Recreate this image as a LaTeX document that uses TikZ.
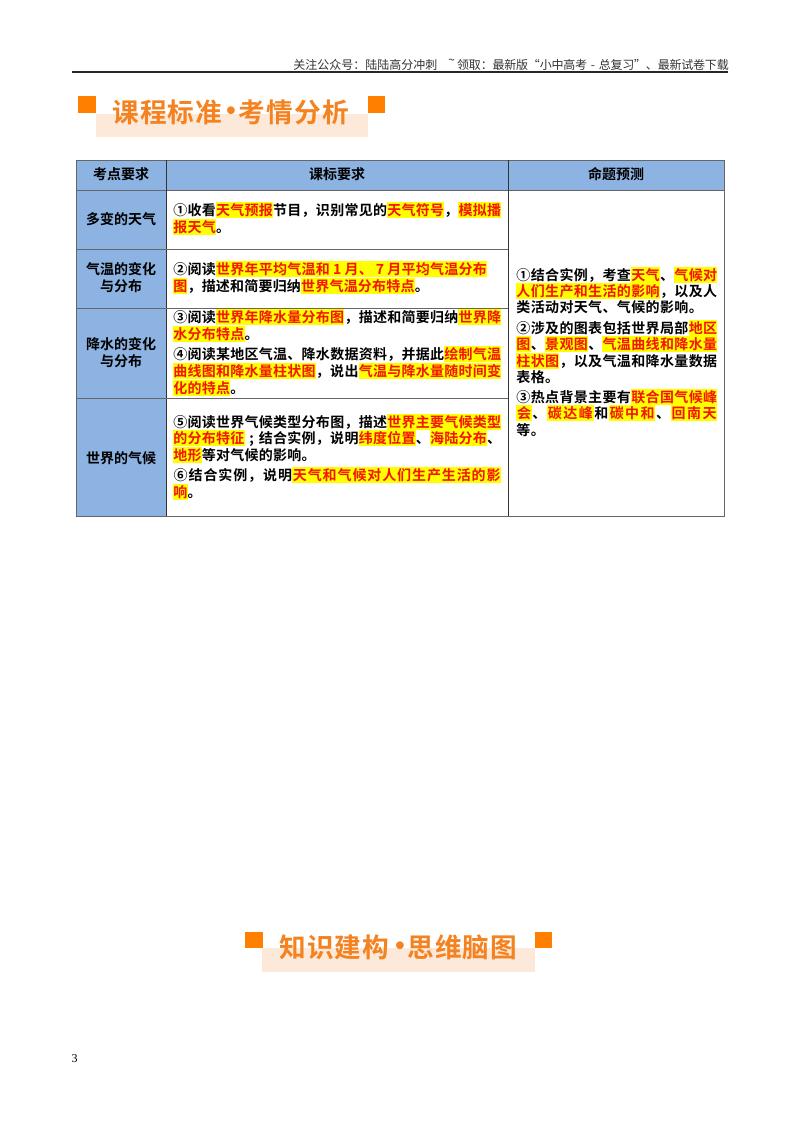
\documentclass[tikz,border=0pt]{standalone}
\usepackage{fontspec}
\setmainfont{Noto Sans CJK SC}[BoldFont={Noto Sans CJK SC Bold}]
\newfontfamily\numfont{Liberation Serif}
\newfontfamily\dotfont{Liberation Sans}
\definecolor{headblue}{HTML}{8DB3E2}
\definecolor{gridgray}{HTML}{666666}
\definecolor{griddark}{HTML}{333333}
\definecolor{mark}{HTML}{FFFF00}
\definecolor{markred}{HTML}{F41400}
\definecolor{bannerorange}{HTML}{FF8000}
\definecolor{bannerpale}{HTML}{FDE9D9}
\definecolor{bannertext}{HTML}{F58220}
\definecolor{toptext}{HTML}{333333}
\newlength\cpitch
\newlength\pxu
\setlength\pxu{0.75pt}
\setlength\fboxsep{0pt}
\makeatletter
\newcommand\spaced[1]{\@tfor\tk:=#1\do{\hbox to \cpitch{\hss\tk\hss}}}
\makeatother
\newcommand\lnstrut{\rule[-0.2em]{0pt}{1.15em}}
\newcommand\N[1]{\spaced{#1}}
\newcommand\HL[1]{\colorbox{mark}{\lnstrut\color{markred}\spaced{#1}}}
\newcommand\tline[5]{\node[bodyline] (#1) at (#2,#3) {\setlength\cpitch{#4\pxu}\lnstrut#5};}
\tikzset{
  bodyline/.style={anchor=west,inner sep=0pt,font=\fontsize{10.5pt}{12pt}\selectfont\bfseries,text=black},
  celllabel/.style={inner sep=0pt,font=\fontsize{10.5pt}{12pt}\selectfont\bfseries,text=black},
  toplabel/.style={anchor=west,inner sep=0pt,font=\fontsize{9pt}{11pt}\selectfont,text=toptext},
  bannerlabel/.style={anchor=west,inner sep=0pt,font=\fontsize{20pt}{22pt}\selectfont\bfseries,text=bannertext},
  bannerdot/.style={inner sep=0pt,font=\fontsize{20pt}{22pt}\selectfont\dotfont\bfseries,text=bannertext},
  grid/.style={draw=gridgray,line width=0.7pt},
  griddk/.style={draw=griddark,line width=0.7pt}
}
\begin{document}
\begin{tikzpicture}[x=0.75pt,y=-0.75pt]
\useasboundingbox (0,0) rectangle (800,1132);
\fill[white] (0,0) rectangle (800,1132);
% running head
\node[toplabel] (head1) at (293,65) {\setlength\cpitch{12\pxu}\spaced{关注公众号：陆陆高分冲刺}};
\node[toplabel] (headt) at (448,62) {\textasciitilde};
\node[toplabel] (head2) at (457,65) {\setlength\cpitch{11.8\pxu}\spaced{领取：最新版“小中高考-总复习”、最新试卷下载}};
\draw[line width=1.5pt,draw=black!85] (72,72) -- (728,72);
% banner 1
\fill[bannerpale] (96,114) rectangle (368,137);
\fill[bannerorange] (78,96) rectangle (96,113);
\fill[bannerorange] (368,96) rectangle (385,113);
\node[bannerlabel] (b1a) at (112,112) {\setlength\cpitch{27.5\pxu}\spaced{课程标准}};
\node[bannerdot] (b1d) at (231,113) {•};
\node[bannerlabel] (b1b) at (238,112) {\setlength\cpitch{27.8\pxu}\spaced{考情分析}};
% table
\fill[headblue] (76,160) rectangle (724,190);
\fill[headblue] (76,190) rectangle (166,516);
\draw[grid] (76,160) rectangle (724,516);
\draw[grid] (76,190) -- (724,190);
\draw[griddk] (166,160) -- (166,516);
\draw[griddk] (508,160) -- (508,516);
\draw[grid] (76,249) -- (508,249);
\draw[grid] (76,308) -- (508,308);
\draw[grid] (76,398) -- (508,398);
% headers and left labels
\node[celllabel] (h1) at (121,174) {考点要求};
\node[celllabel] (h2) at (337,174) {课标要求};
\node[celllabel] (h3) at (616,174) {命题预测};
\node[celllabel] (r1) at (121,219) {多变的天气};
\node[celllabel] (r2a) at (121,269) {气温的变化};
\node[celllabel] (r2b) at (121,286) {与分布};
\node[celllabel] (r3a) at (121,344) {降水的变化};
\node[celllabel] (r3b) at (121,361) {与分布};
\node[celllabel] (r4) at (121,458) {世界的气候};
% middle column
\tline{m1}{173}{210}{14.26}{\N{①收看}\HL{天气预报}\N{节目，识别常见的}\HL{天气符号}\N{，}\HL{模拟播}}
\tline{m2}{173}{227}{14.26}{\HL{报天气}\N{。}}
\tline{m3}{173}{269}{14.26}{\N{②阅读}\HL{世界年平均气温和1月、7月平均气温分布}}
\tline{m4}{173}{286}{14.2}{\HL{图}\N{，描述和简要归纳}\HL{世界气温分布特点}\N{。}}
\tline{m5}{173}{317}{14.26}{\N{③阅读}\HL{世界年降水量分布图}\N{，描述和简要归纳}\HL{世界降}}
\tline{m6}{173}{334}{14.26}{\HL{水分布特点}\N{。}}
\tline{m7}{173}{354}{14.26}{\N{④阅读某地区气温、降水数据资料，并据此}\HL{绘制气温}}
\tline{m8}{173}{371}{14.26}{\HL{曲线图和降水量柱状图}\N{，说出}\HL{气温与降水量随时间变}}
\tline{m9}{173}{388}{14.26}{\HL{化的特点}\N{。}}
\tline{m10}{173}{422}{14.26}{\N{⑤阅读世界气候类型分布图，描述}\HL{世界主要气候类型}}
\tline{m11}{173}{438}{14.26}{\HL{的分布特征}\N{;结合实例，说明}\HL{纬度位置}\N{、}\HL{海陆分布}\N{、}}
\tline{m12}{173}{455}{14.26}{\HL{地形}\N{等对气候的影响。}}
\tline{m13}{173}{475}{14.9}{\N{⑥结合实例，说明}\HL{天气和气候对人们生产生活的影}}
\tline{m14}{173}{492}{14.26}{\HL{响}\N{。}}
% right column
\tline{p1}{516}{275}{14.36}{\N{①结合实例，考查}\HL{天气}\N{、}\HL{气候对}}
\tline{p2}{516}{291}{14.36}{\HL{人们生产和生活的影响}\N{，以及人}}
\tline{p3}{516}{307}{14.36}{\N{类活动对天气、气候的影响。}}
\tline{p4}{516}{328}{14.36}{\N{②涉及的图表包括世界局部}\HL{地区}}
\tline{p5}{516}{344}{14.36}{\HL{图}\N{、}\HL{景观图}\N{、}\HL{气温曲线和降水量}}
\tline{p6}{516}{361}{14.36}{\HL{柱状图}\N{，以及气温和降水量数据}}
\tline{p7}{516}{377}{14.36}{\N{表格。}}
\tline{p8}{516}{397}{14.36}{\N{③热点背景主要有}\HL{联合国气候峰}}
\tline{p9}{516}{413}{15.46}{\HL{会}\N{、}\HL{碳达峰}\N{和}\HL{碳中和}\N{、}\HL{回南天}}
\tline{p10}{516}{430}{14.36}{\N{等。}}
% banner 2
\fill[bannerpale] (262,948) rectangle (535,972);
\fill[bannerorange] (245,932) rectangle (263,948);
\fill[bannerorange] (535,932) rectangle (552,948);
\node[bannerlabel] (b2a) at (279,947) {\setlength\cpitch{27.5\pxu}\spaced{知识建构}};
\node[bannerdot] (b2d) at (400,948) {•};
\node[bannerlabel] (b2b) at (407,947) {\setlength\cpitch{27.5\pxu}\spaced{思维脑图}};
% page number
\node[inner sep=0pt,font=\fontsize{9pt}{11pt}\selectfont\numfont,text=black] (pg) at (74.5,1059) {3};
\end{tikzpicture}
\end{document}
